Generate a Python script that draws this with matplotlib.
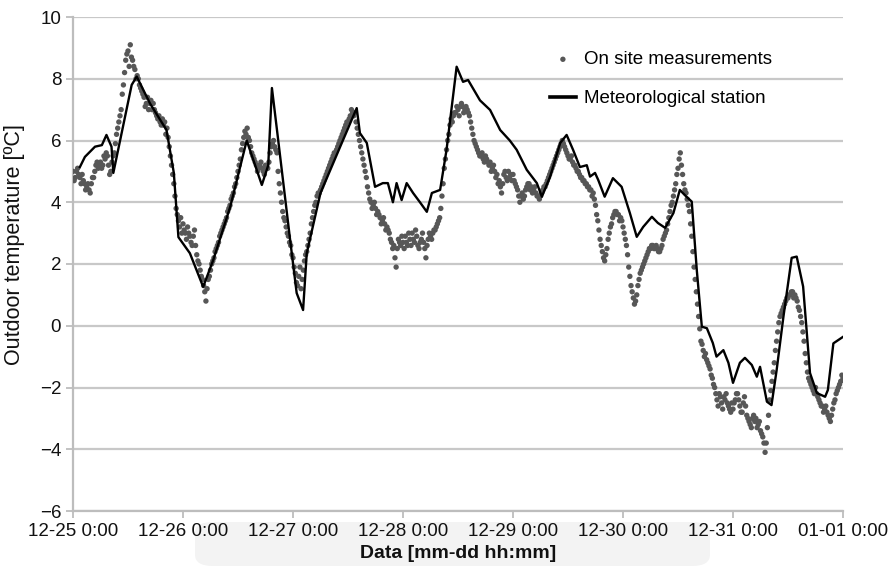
import numpy as np
import matplotlib
matplotlib.use("Agg")
import matplotlib.pyplot as plt
from matplotlib.patches import FancyBboxPatch

plt.rcParams['font.family'] = ['Liberation Sans', 'DejaVu Sans']

# ---- data (hours from 12-25 0:00) ----
# on site measurements, readings on the hour and half hour
site_day1 = [5.0, 4.8, 5.1, 4.8, 4.9, 4.6, 4.5, 4.4, 4.6, 4.8, 5.2, 5.1,
             5.3, 5.2, 5.4, 5.5, 4.9, 5.3, 5.6, 6.2, 6.6, 7.0, 7.8, 8.6,
             8.9, 9.1, 8.6, 8.3, 8.1, 7.8, 7.6, 7.4, 7.2, 7.0, 7.3, 7.2,
             6.9, 6.7, 6.6, 6.7, 6.6, 6.4, 5.8, 5.2, 4.6, 3.8, 3.4, 3.5]
site_day2 = [3.3, 3.0, 3.2, 2.9, 2.6, 3.1, 2.3, 2.0, 1.6, 1.3, 0.8, 1.5,
             1.8, 2.1, 2.4, 2.6, 2.9, 3.1, 3.3, 3.5, 3.8, 4.1, 4.3, 4.6,
             5.0, 5.4, 5.9, 6.3, 6.4, 6.0, 5.6, 5.4, 5.2, 5.1, 5.3, 5.0,
             5.2, 5.1, 5.6, 5.9, 5.8, 5.6, 4.6, 4.0, 3.5, 3.2, 2.9, 2.6]
site_day3 = [2.2, 1.7, 1.3, 1.9, 1.5, 2.1, 2.4, 2.8, 3.3, 3.7, 4.0, 4.3,
             4.4, 4.6, 4.8, 5.0, 5.2, 5.4, 5.6, 5.7, 5.9, 6.1, 6.3, 6.5,
             6.6, 6.8, 6.9, 6.9, 6.4, 6.0, 5.6, 5.2, 4.8, 4.3, 4.0, 3.9,
             3.8, 3.7, 3.5, 3.4, 3.3, 3.2, 3.0, 2.7, 2.6, 1.9, 2.8, 2.6]
site_day4 = [2.7, 2.9, 2.6, 2.8, 3.0, 2.7, 2.9, 2.5, 2.8, 2.7, 2.2, 2.8,
             2.9, 3.0, 3.1, 3.3, 3.5, 4.2, 5.1, 5.7, 6.2, 6.7, 6.8, 6.9,
             7.0, 7.1, 7.1, 7.0, 7.0, 6.8, 6.4, 6.0, 5.8, 5.6, 5.5, 5.4,
             5.5, 5.3, 5.3, 5.1, 5.0, 4.9, 4.7, 4.3, 4.9, 4.8, 5.0, 4.9]
site_day5 = [4.9, 4.6, 4.4, 4.0, 4.3, 4.2, 4.5, 4.6, 4.5, 4.4, 4.3, 4.2,
             4.2, 4.4, 4.5, 4.7, 4.9, 5.1, 5.3, 5.5, 5.7, 5.9, 5.9, 5.7,
             5.5, 5.4, 5.3, 5.2, 5.0, 4.9, 4.8, 4.7, 4.6, 4.5, 4.4, 4.3,
             3.9, 3.4, 2.8, 2.4, 2.1, 2.5, 3.0, 3.3, 3.6, 3.7, 3.6, 3.5]
site_day6 = [3.2, 2.8, 2.3, 1.6, 1.1, 0.7, 1.0, 1.5, 1.8, 2.0, 2.2, 2.4,
             2.5, 2.6, 2.5, 2.5, 2.4, 2.6, 2.9, 3.1, 3.5, 3.9, 4.2, 4.6,
             5.1, 5.6, 4.9, 4.4, 4.1, 3.7, 2.9, 1.9, 1.1, 0.3, -0.5, -0.8,
             -0.9, -1.2, -1.4, -1.7, -2.0, -2.4, -2.2, -2.5, -2.3, -2.2, -2.6, -2.8]
site_day7 = [-2.7, -2.4, -2.2, -2.6, -2.8, -2.3, -2.9, -3.1, -3.3, -2.9, -3.0, -3.2,
             -3.4, -3.6, -4.1, -3.3, -2.4, -1.8, -1.2, -0.5, 0.1, 0.4, 0.6, 0.8,
             0.9, 1.0, 1.1, 1.0, 0.8, 0.5, 0.1, -0.5, -1.2, -1.7, -1.9, -2.1,
             -2.0, -2.3, -2.5, -2.6, -2.7, -2.8, -3.0, -2.9, -2.5, -2.2, -2.0, -1.8,
             -1.7]

# on site measurements, readings at quarter past / quarter to
site_mid1 = [4.7, 5.0, 4.9, 4.6, 4.7, 4.4, 4.6, 4.3, 4.8, 5.0, 5.3, 5.2,
             5.1, 5.5, 5.6, 5.2, 5.0, 5.5, 5.9, 6.4, 6.8, 7.5, 8.2, 8.8,
             8.4, 8.7, 8.4, 8.0, 8.0, 7.7, 7.5, 7.1, 7.4, 7.2, 7.0, 7.0,
             6.8, 6.8, 6.5, 6.5, 6.2, 6.1, 5.5, 4.9, 4.2, 3.6, 3.2, 3.0]
site_mid2 = [3.1, 2.8, 3.0, 2.7, 2.9, 2.6, 2.1, 1.8, 1.5, 1.1, 1.2, 1.6,
             2.0, 2.2, 2.5, 2.7, 3.0, 3.2, 3.4, 3.7, 3.9, 4.2, 4.5, 4.8,
             5.2, 5.7, 6.1, 6.2, 6.1, 5.8, 5.5, 5.3, 5.0, 5.2, 5.1, 4.9,
             5.1, 5.3, 5.8, 6.0, 5.7, 5.0, 4.3, 3.7, 3.4, 3.0, 2.7, 2.3]
site_mid3 = [1.9, 1.4, 1.6, 1.2, 1.8, 2.3, 2.6, 3.0, 3.5, 3.9, 4.2, 4.3,
             4.5, 4.7, 4.9, 5.1, 5.3, 5.5, 5.6, 5.8, 6.0, 6.2, 6.4, 6.6,
             6.7, 7.0, 6.8, 6.6, 6.2, 5.8, 5.4, 5.0, 4.5, 4.1, 3.8, 4.0,
             3.6, 3.6, 3.3, 3.5, 3.1, 3.1, 2.8, 2.5, 2.2, 2.5, 2.7, 2.9]
site_mid4 = [2.5, 2.7, 3.0, 2.6, 2.8, 3.1, 2.6, 2.7, 3.0, 2.5, 2.6, 3.0,
             2.8, 3.1, 3.2, 3.4, 3.8, 4.6, 5.4, 6.0, 6.5, 6.6, 6.9, 7.1,
             6.8, 7.2, 6.9, 7.1, 6.9, 6.6, 6.2, 5.9, 5.7, 5.5, 5.6, 5.3,
             5.4, 5.2, 5.0, 5.2, 4.8, 4.6, 4.5, 4.6, 5.0, 4.7, 4.8, 4.7]
site_mid5 = [4.7, 4.5, 4.2, 4.2, 4.1, 4.4, 4.6, 4.4, 4.3, 4.5, 4.2, 4.1,
             4.3, 4.5, 4.6, 4.8, 5.0, 5.2, 5.4, 5.6, 5.8, 6.0, 5.8, 5.6,
             5.4, 5.5, 5.2, 5.1, 5.0, 4.8, 4.7, 4.6, 4.5, 4.4, 4.2, 4.1,
             3.6, 3.1, 2.6, 2.2, 2.3, 2.8, 3.2, 3.5, 3.7, 3.6, 3.4, 3.4]
site_mid6 = [3.0, 2.6, 1.9, 1.3, 0.9, 0.8, 1.3, 1.7, 1.9, 2.1, 2.3, 2.5,
             2.6, 2.5, 2.6, 2.4, 2.5, 2.8, 3.0, 3.3, 3.7, 4.0, 4.4, 4.9,
             5.4, 5.2, 4.6, 4.3, 3.9, 3.3, 2.4, 1.5, 0.7, -0.1, -0.6, -1.0,
             -1.1, -1.3, -1.6, -1.9, -2.2, -2.6, -2.3, -2.7, -2.4, -2.5, -2.7, -2.5]
site_mid7 = [-2.5, -2.2, -2.4, -2.8, -2.5, -2.6, -3.0, -3.2, -3.0, -3.1, -3.3, -3.1,
             -3.5, -3.8, -3.8, -2.9, -2.1, -1.5, -0.8, -0.2, 0.3, 0.5, 0.7, 0.9,
             1.0, 1.1, 0.9, 0.9, 0.6, 0.3, -0.2, -0.9, -1.5, -1.8, -2.0, -2.2,
             -2.2, -2.4, -2.6, -2.8, -2.6, -2.9, -3.1, -2.7, -2.4, -2.1, -1.9, -1.6]

site_temp = site_day1 + site_day2 + site_day3 + site_day4 + site_day5 + site_day6 + site_day7
site_hours = np.arange(len(site_temp)) * 0.5
site_mid_temp = site_mid1 + site_mid2 + site_mid3 + site_mid4 + site_mid5 + site_mid6 + site_mid7
site_mid_hours = np.arange(len(site_mid_temp)) * 0.5 + 0.25

# meteorological station
station_hours = [1.5, 2.6, 4.8, 6.3, 7.3, 8.4, 8.8, 12.8, 13.9, 16.8, 20.4, 22.0,
                 23.0, 25.5, 28.4, 30.6, 34.3, 37.9, 41.2, 42.6, 43.4, 44.7, 47.3, 48.8,
                 50.2, 51.0, 54.0, 58.3, 61.9, 62.6, 64.1, 65.9, 67.6, 68.7, 69.8, 70.6,
                 71.7, 72.8, 74.2, 75.7, 77.2, 78.3, 80.1, 81.5, 83.7, 85.1, 86.2, 88.8,
                 91.0, 93.2, 95.3, 96.8, 99.0, 101.2, 102.3, 104.1, 106.3, 107.7, 109.1, 110.6,
                 112.1, 112.8, 113.9, 114.6, 116.0, 117.8, 119.7, 121.5, 123.0, 124.4, 126.3, 127.6,
                 129.2, 131.0, 132.4, 133.5, 135.0, 136.1, 137.2, 138.3, 139.6, 140.4, 141.9, 143.0,
                 144.0, 145.5, 146.6, 148.1, 149.2, 149.9, 151.4, 152.4, 153.5, 155.0, 156.8, 157.9,
                 159.3, 160.8, 162.3, 164.1, 164.7, 165.9, 168.0]
station_temp = [5.14, 5.47, 5.8, 5.85, 6.18, 5.8, 4.95, 7.8, 8.07, 7.2, 6.34, 4.95,
                2.87, 2.35, 1.26, 2.13, 3.85, 6.0, 4.56, 5.2, 7.7, 6.1, 2.87, 1.06,
                0.51, 2.35, 4.3, 5.8, 7.05, 6.24, 5.92, 4.5, 4.62, 4.62, 4.0, 4.62,
                4.07, 4.62, 4.3, 4.0, 3.69, 4.3, 4.4, 5.7, 8.39, 7.9, 7.96, 7.3,
                6.99, 6.34, 6.0, 5.7, 5.05, 4.62, 4.18, 4.83, 5.92, 6.18, 5.7, 5.14,
                5.2, 4.83, 4.95, 4.72, 4.18, 4.78, 4.5, 3.65, 2.88, 3.2, 3.53, 3.33,
                3.17, 3.65, 4.4, 4.23, 4.02, 1.8, -0.03, -0.08, -0.56, -1.0, -0.79, -1.2,
                -1.85, -1.2, -1.04, -1.27, -1.65, -1.33, -2.46, -2.57, -1.46, 0.29, 2.2, 2.24,
                1.27, -1.53, -2.18, -2.3, -2.08, -0.57, -0.36]

tick_hours = [0, 24, 48, 72, 96, 120, 144, 168]
tick_labels = ['12-25 0:00', '12-26 0:00', '12-27 0:00', '12-28 0:00',
               '12-29 0:00', '12-30 0:00', '12-31 0:00', '01-01 0:00']
y_ticks = [-6, -4, -2, 0, 2, 4, 6, 8, 10]

# ---- figure ----
fig = plt.figure(figsize=(8.95, 5.66), dpi=100)

# faint grey band behind the x label (scan artefact)
band = FancyBboxPatch((195/895, 0.0), 515/895, 44/566,
                      boxstyle="round,pad=0,rounding_size=0.02",
                      transform=fig.transFigure, facecolor='#f3f3f3',
                      edgecolor='none', zorder=-5)
fig.patches.append(band)

ax = fig.add_axes([73/895, 1-511/566, 770/895, 494/566])
ax.set_zorder(2)
ax.set_facecolor('none')

dot_color = '#575757'
ax.scatter(site_hours, site_temp, s=15, color=dot_color, edgecolors='none',
           label='On site measurements', zorder=3)
ax.scatter(site_mid_hours, site_mid_temp, s=15, color=dot_color, edgecolors='none',
           zorder=3)
ax.plot(station_hours, station_temp, color='black', lw=1.7,
        label='Meteorological station', zorder=4)

ax.set_xlim(0, 168)
ax.set_ylim(-6, 10)
ax.set_xticks(tick_hours)
ax.set_xticklabels(tick_labels)
ax.set_yticks(y_ticks)
ax.yaxis.grid(True, color='#c8c8c8', lw=1.6)
ax.set_axisbelow(True)

for s in ['top', 'right']:
    ax.spines[s].set_visible(False)
for s in ['left', 'bottom']:
    ax.spines[s].set_color('#bdbdbd')
    ax.spines[s].set_linewidth(1.6)
ax.tick_params(axis='both', colors='#bdbdbd', labelcolor='#111111',
               labelsize=13.5, length=5, width=1.3)

ax.set_ylabel('Outdoor temperature [ºC]', fontsize=15.5, color='#111111')
ax.yaxis.set_label_coords(-0.062, 0.54)
ax.set_xlabel('Data [mm-dd hh:mm]', fontsize=14, fontweight='bold',
              color='#111111', labelpad=4)

leg = ax.legend(loc='upper left', bbox_to_anchor=(0.607, 0.95), frameon=False,
                fontsize=13.5, labelspacing=1.17, handlelength=1.4,
                handletextpad=0.45, borderpad=0)
leg.get_lines()[0].set_linewidth(2.6)

fig.savefig('out.png', dpi=100)
